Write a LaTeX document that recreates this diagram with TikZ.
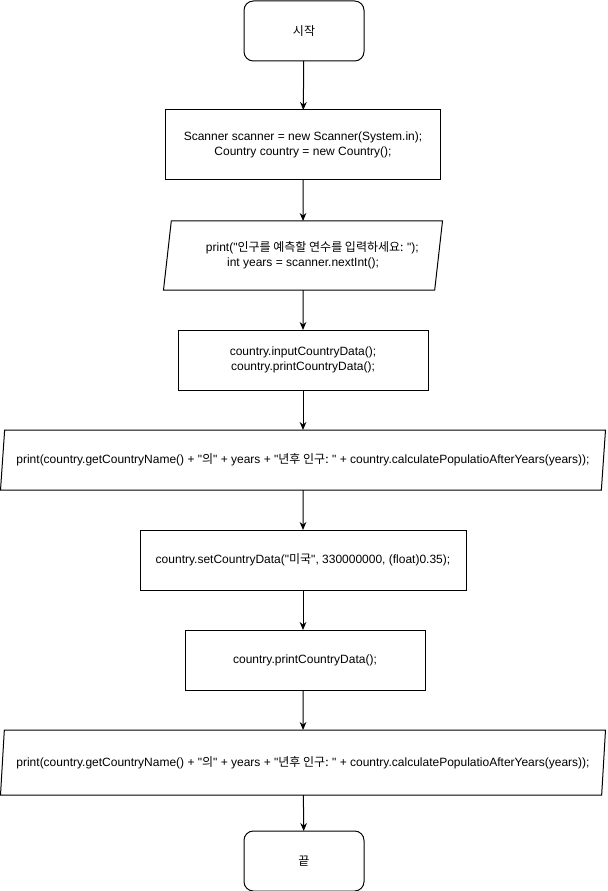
\documentclass[tikz,border=0pt]{standalone}
\usepackage{fontspec}
\setmainfont{Liberation Sans}[Ligatures=TeXOff]
\newfontfamily\kr{Noto Sans CJK KR}[Ligatures=TeXOff]
\usetikzlibrary{shapes.geometric,arrows.meta}

\tikzset{
  flowbox/.style={draw, line width=0.75pt, inner sep=0pt, outer sep=0pt, align=center, font=\fontsize{9}{11}\selectfont},
  termbox/.style={flowbox, rounded corners=7pt, minimum width=90pt, minimum height=45pt},
  iobox/.style={flowbox, trapezium, trapezium stretches body=true, trapezium left angle=#1, trapezium right angle=180-#1},
  flowarrow/.style={line width=0.75pt, -{Stealth[length=6pt,width=5pt]}}
}

\begin{document}
\begin{tikzpicture}[x=0.75pt,y=0.75pt,yscale=-1]
\useasboundingbox (0,0) rectangle (607,891);

\node [termbox] (start) at (304,31) {{\kr 시작}};
\node [flowbox, minimum width=206.25pt, minimum height=52.5pt] (init) at (303,145) {Scanner scanner = new Scanner(System.in);\\Country country = new Country();};
\node [iobox=74, minimum width=209.25pt, minimum height=51.75pt] (askyears) at (303,255.5) {\hspace*{14pt}print("{\kr 인구를 예측할 연수를 입력하세요: }");\\int years = scanner.nextInt();};
\node [flowbox, minimum width=187.5pt, minimum height=45pt] (inputdata) at (303,360) {country.inputCountryData();\\country.printCountryData();};
\node [iobox=71.6, minimum width=453.75pt, minimum height=45pt] (printpop1) at (303,460) {print(country.getCountryName() + "{\kr 의}" + years + "{\kr 년후 인구: }" + country.calculatePopulatioAfterYears(years));};
\node [flowbox, minimum width=244.5pt, minimum height=45pt] (setdata) at (303,560) {country.setCountryData("{\kr 미국}", 330000000, (float)0.35);};
\node [flowbox, minimum width=180pt, minimum height=45pt] (printdata) at (305,660) {country.printCountryData();};
\node [iobox=72.9, minimum width=453.75pt, minimum height=48.75pt] (printpop2) at (303,762.5) {print(country.getCountryName() + "{\kr 의}" + years + "{\kr 년후 인구: }" + country.calculatePopulatioAfterYears(years));};
\node [termbox] (end) at (304,861) {{\kr 끝}};

\draw [flowarrow] (start) -- (init);
\draw [flowarrow] (init) -- (askyears);
\draw [flowarrow] (askyears) -- (inputdata);
\draw [flowarrow] (inputdata) -- (printpop1);
\draw [flowarrow] (printpop1) -- (setdata);
\draw [flowarrow] (setdata) -- (printdata.north -| setdata);
\draw [flowarrow] (printdata.south -| setdata) -- (printpop2);
\draw [flowarrow] (printpop2) -- (end);

\end{tikzpicture}
\end{document}
